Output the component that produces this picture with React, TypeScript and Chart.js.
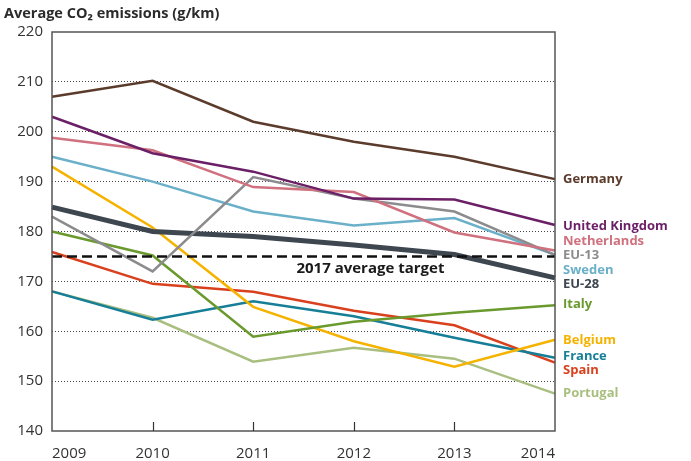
import React, { useEffect, useRef } from "react";
import { Chart, registerables } from "chart.js";

Chart.register(...registerables);

const years = ["2009", "2010", "2011", "2012", "2013", "2014"];
const yTicks = [140, 150, 160, 170, 180, 190, 200, 210, 220];

const germany = [207, 210.2, 202, 198, 195, 190.5];
const unitedKingdom = [203, 195.7, 192, 186.6, 186.4, 181.3];
const netherlands = [198.8, 196.3, 188.9, 187.9, 179.8, 176.2];
const eu13 = [183, 172, 190.9, 186.6, 184, 175.3];
const sweden = [195, 190, 184, 181.2, 182.7, 175.3];
const eu28 = [184.9, 180, 179, 177.3, 175.4, 170.7];
const italy = [180, 175.2, 158.9, 161.9, 163.7, 165.2];
const belgium = [193, 180.8, 164.9, 158, 152.9, 158.3];
const france = [168, 162.3, 166, 163, 158.7, 154.7];
const spain = [175.9, 169.5, 167.9, 164.1, 161.2, 153.7];
const portugal = [168, 162.7, 153.9, 156.7, 154.5, 147.5];
const target2017 = [175, 175, 175, 175, 175, 175];

const seriesNames = ["Germany", "United Kingdom", "Netherlands", "EU-13", "Sweden", "EU-28", "Italy", "Belgium", "France", "Spain", "Portugal"];
const seriesData = [germany, unitedKingdom, netherlands, eu13, sweden, eu28, italy, belgium, france, spain, portugal];
const seriesColors = ["#5b3b2b", "#6b1f66", "#cf717f", "#8c8c8e", "#6ab0c9", "#3e4650", "#6a9a2d", "#f5b300", "#167f97", "#d9411e", "#a9bf80"];
// value (in g/km) at which each end label is centred
const labelValues = [190.4, 181, 178, 175.2, 172.2, 169.4, 165.4, 158.2, 155, 152.2, 147.6];

const titleText = "Average CO\u2082 emissions (g/km)";
const targetText = "2017 average target";
const FONT = "'Open Sans', 'DejaVu Sans', sans-serif";

const decorPlugin = {
  id: "decor",
  afterDraw(chart: any) {
    const { ctx, chartArea, scales } = chart;
    const x = scales.x;
    const y = scales.y;
    ctx.save();
    // frame
    ctx.strokeStyle = "#555";
    ctx.lineWidth = 1.5;
    ctx.beginPath();
    ctx.moveTo(chartArea.left, chartArea.top);
    ctx.lineTo(chartArea.right, chartArea.top);
    ctx.lineTo(chartArea.right, chartArea.bottom);
    ctx.lineTo(chartArea.left, chartArea.bottom);
    ctx.closePath();
    ctx.stroke();
    // inner ticks
    ctx.lineWidth = 1.2;
    ctx.strokeStyle = "#333";
    for (let i = 1; i < years.length - 1; i++) {
      const px = Math.round(x.getPixelForValue(i)) + 0.5;
      ctx.beginPath();
      ctx.moveTo(px, chartArea.bottom);
      ctx.lineTo(px, chartArea.bottom - 9);
      ctx.stroke();
    }
    // title
    ctx.fillStyle = "#2b2b2b";
    ctx.font = `bold 14.5px ${FONT}`;
    ctx.textBaseline = "middle";
    ctx.textAlign = "left";
    ctx.fillText(titleText, 4, 14);
    // target label
    ctx.fillStyle = "#1a1a1a";
    ctx.font = `bold 15px ${FONT}`;
    ctx.fillText(targetText, x.getPixelForValue(2.43), y.getPixelForValue(172.6));
    // series labels
    ctx.font = `bold 13px ${FONT}`;
    seriesNames.forEach((n, i) => {
      ctx.fillStyle = seriesColors[i];
      ctx.fillText(n, chartArea.right + 8, y.getPixelForValue(labelValues[i]));
    });
    ctx.restore();
  },
};

export default function App() {
  const ref = useRef<HTMLCanvasElement | null>(null);
  useEffect(() => {
    if (!ref.current) return;
    const datasets: any[] = [
      {
        label: "2017 average target",
        data: target2017,
        borderColor: "#111",
        borderWidth: 2.5,
        borderDash: [10, 5],
        pointRadius: 0,
        fill: false,
      },
    ];
    seriesNames.forEach((n, i) => {
      datasets.push({
        label: n,
        data: seriesData[i],
        borderColor: seriesColors[i],
        borderWidth: n === "EU-28" ? 5 : 2.5,
        pointRadius: 0,
        fill: false,
        tension: 0,
      });
    });
    const chart = new Chart(ref.current, {
      type: "line",
      data: { labels: years, datasets },
      options: {
        animation: false,
        responsive: false,
        layout: { padding: { top: 32, right: 136, left: 0, bottom: 0 } },
        plugins: { legend: { display: false }, tooltip: { enabled: false }, title: { display: false } },
        scales: {
          x: {
            type: "category",
            offset: false,
            grid: { display: false },
            border: { display: false },
            ticks: {
              align: "inner",
              maxRotation: 0,
              autoSkip: false,
              padding: 6,
              color: "#333",
              font: { family: FONT, size: 15 },
            },
            afterFit: (s: any) => { s.height = 30; },
          },
          y: {
            min: 140,
            max: 220,
            afterBuildTicks: (s: any) => { s.ticks = yTicks.map((v) => ({ value: v })); },
            grid: {
              color: (c: any) => (c.tick && (c.tick.value === 140 || c.tick.value === 220) ? "rgba(0,0,0,0)" : "#444"),
              lineWidth: 1,
              drawTicks: false,
            },
            border: { display: false, dash: [1, 2] },
            ticks: {
              padding: 9,
              color: "#333",
              font: { family: FONT, size: 15 },
            },
            afterFit: (s: any) => { s.width = 52; },
          },
        },
      },
      plugins: [decorPlugin],
    } as any);
    return () => chart.destroy();
  }, []);
  return (
    <div style={{ position: "fixed", left: 0, top: 0, width: 691, height: 461, background: "#fff" }}>
      <canvas ref={ref} width={691} height={461} style={{ width: 691, height: 461 }} />
    </div>
  );
}
